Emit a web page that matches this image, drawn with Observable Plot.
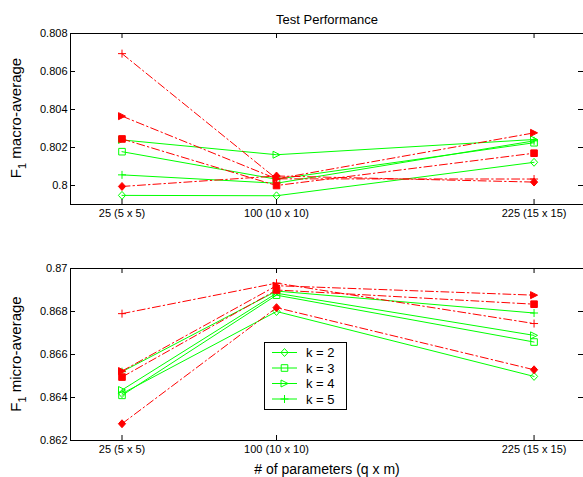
<!DOCTYPE html>
<html><head><meta charset="utf-8">
<script src="https://cdn.jsdelivr.net/npm/d3@7"></script>
<script src="https://cdn.jsdelivr.net/npm/@observablehq/plot@0.6"></script>
<style>
body{margin:0;background:#fff;font-family:"Liberation Sans",Arial,sans-serif;}
#wrap{position:relative;width:583px;height:477px;overflow:hidden;background:#fff;}
#wrap svg{position:absolute;left:0;}
.lbl{position:absolute;white-space:nowrap;color:#000;font-family:"Liberation Sans",Arial,sans-serif;}
.ylab{font-size:15px;transform:translate(-50%,-50%) rotate(-90deg);}
.ylab sub{font-size:11px;vertical-align:-5px;}
</style></head><body>
<div id="wrap"></div>
<script>
// ---- data ----
const params = [25, 100, 225];
const paramLabels = ["25 (5 x 5)", "100 (10 x 10)", "225 (15 x 15)"];
const kLabels = ["k = 2", "k = 3", "k = 4", "k = 5"];

const macroTicks = [0.8, 0.802, 0.804, 0.806, 0.808];
const macroTickLabels = ["0.8", "0.802", "0.804", "0.806", "0.808"];
const microTicks = [0.862, 0.864, 0.866, 0.868, 0.87];
const microTickLabels = ["0.862", "0.864", "0.866", "0.868", "0.87"];

const macroGreenK2 = [0.79948, 0.79946, 0.80122];
const macroGreenK3 = [0.80178, 0.80033, 0.80225];
const macroGreenK4 = [0.80240, 0.80162, 0.80242];
const macroGreenK5 = [0.80056, 0.80012, 0.80235];
const macroRedK2 = [0.79995, 0.80050, 0.80018];
const macroRedK3 = [0.80245, 0.80000, 0.80170];
const macroRedK4 = [0.80365, 0.80035, 0.80277];
const macroRedK5 = [0.80694, 0.80035, 0.80034];

const microGreenK2 = [0.86418, 0.86800, 0.86498];
const microGreenK3 = [0.86410, 0.86876, 0.86658];
const microGreenK4 = [0.86435, 0.86885, 0.86689];
const microGreenK5 = [0.86520, 0.86895, 0.86793];
const microRedK2 = [0.86278, 0.86818, 0.86529];
const microRedK3 = [0.86495, 0.86900, 0.86834];
const microRedK4 = [0.86523, 0.86920, 0.86876];
const microRedK5 = [0.86790, 0.86932, 0.86744];

// ---- symbols (MATLAB-like) ----
const hOf = s => Math.sqrt(s / Math.PI);
const symDiamond = {draw(c, s){const h = hOf(s); c.moveTo(0, -h*1.1); c.lineTo(h, 0); c.lineTo(0, h*1.1); c.lineTo(-h, 0); c.closePath();}};
const symSquare = {draw(c, s){const h = hOf(s); c.moveTo(-h, -h); c.lineTo(h, -h); c.lineTo(h, h); c.lineTo(-h, h); c.closePath();}};
const symTriRight = {draw(c, s){const h = hOf(s); c.moveTo(h, 0); c.lineTo(-h, -h); c.lineTo(-h, h); c.closePath();}};
const symPlus = {draw(c, s){const h = hOf(s); c.moveTo(-h, 0); c.lineTo(h, 0); c.moveTo(0, -h); c.lineTo(0, h);}};
const symbols = [symDiamond, symSquare, symTriRight, symPlus];
const symR = [3.6, 3.3, 3.5, 4];

const GREEN = "#00ff00", RED = "#ff0000", DASH = "8,3,1.5,3";

function rows(vals){ return vals.map((v, i) => ({x: params[i], y: v})); }

function seriesMarks(greens, reds){
  const m = [];
  greens.forEach((vals, k) => {
    m.push(Plot.line(rows(vals), {x: "x", y: "y", stroke: GREEN, strokeWidth: 1}));
    m.push(Plot.dot(rows(vals), {x: "x", y: "y", symbol: symbols[k], r: symR[k], stroke: GREEN, fill: "none", strokeWidth: 1}));
  });
  reds.forEach((vals, k) => {
    m.push(Plot.line(rows(vals), {x: "x", y: "y", stroke: RED, strokeWidth: 1, strokeDasharray: DASH}));
    m.push(Plot.dot(rows(vals), {x: "x", y: "y", symbol: symbols[k], r: symR[k], stroke: RED, fill: RED, strokeWidth: 1}));
  });
  return m;
}

function panel({greens, reds, yDomain, yTicks, yTickLabels, height, mt, mb}){
  const W = 583, ML = 70, MR = 0;
  const pw = W - ML - MR, ph = height - mt - mb, T = 5;
  return Plot.plot({
    width: W, height, marginLeft: ML, marginRight: MR, marginTop: mt, marginBottom: mb,
    style: {fontFamily: "Liberation Sans, Arial, sans-serif", fontSize: "11px", color: "#000", background: "white", overflow: "visible"},
    x: {domain: [0, 249]},
    y: {domain: yDomain},
    marks: [
      Plot.axisX(params, {anchor: "bottom", tickSize: 0, tickPadding: 5, tickFormat: d => paramLabels[params.indexOf(d)], label: null, fontSize: 11}),
      Plot.axisY(yTicks, {anchor: "left", tickSize: 0, tickPadding: 3, tickFormat: d => yTickLabels[yTicks.indexOf(d)], label: null, fontSize: 11}),
      ...seriesMarks(greens, reds),
      Plot.ruleX(params, {insetBottom: ph - T, stroke: "#000"}),
      Plot.ruleX(params, {insetTop: ph - T, stroke: "#000"}),
      Plot.ruleY(yTicks, {insetRight: pw - T, stroke: "#000"}),
      Plot.ruleY(yTicks, {insetLeft: pw - T, stroke: "#000"}),
      Plot.ruleY([yDomain[0], yDomain[1]], {stroke: "#000"}),
      Plot.ruleX([0], {stroke: "#000"})
    ]
  });
}

const wrap = document.getElementById("wrap");

const topPanel = panel({
  greens: [macroGreenK2, macroGreenK3, macroGreenK4, macroGreenK5],
  reds: [macroRedK2, macroRedK3, macroRedK4, macroRedK5],
  yDomain: [0.799, 0.808], yTicks: macroTicks, yTickLabels: macroTickLabels,
  height: 230, mt: 33, mb: 26
});
topPanel.style.top = "0px";
wrap.appendChild(topPanel);

const botPanel = panel({
  greens: [microGreenK2, microGreenK3, microGreenK4, microGreenK5],
  reds: [microRedK2, microRedK3, microRedK4, microRedK5],
  yDomain: [0.862, 0.87], yTicks: microTicks, yTickLabels: microTickLabels,
  height: 247, mt: 38, mb: 37
});
botPanel.style.top = "230px";
wrap.appendChild(botPanel);

// legend
const lg = d3.create("svg").attr("width", 83).attr("height", 68)
  .style("position", "absolute").style("left", "264px").style("top", "342px");
lg.append("rect").attr("x", 0.5).attr("y", 0.5).attr("width", 82).attr("height", 67)
  .attr("fill", "white").attr("stroke", "#000").attr("stroke-width", 1);
const ly = [10.5, 26, 41.5, 57];
kLabels.forEach((t, i) => {
  lg.append("line").attr("x1", 8).attr("x2", 33).attr("y1", ly[i]).attr("y2", ly[i])
    .attr("stroke", GREEN).attr("stroke-width", 1);
  lg.append("path").attr("transform", `translate(20.5,${ly[i]})`)
    .attr("d", d3.symbol(symbols[i], Math.PI * symR[i] * symR[i])())
    .attr("fill", "none").attr("stroke", GREEN).attr("stroke-width", 1);
  lg.append("text").attr("x", 42).attr("y", ly[i]).attr("dy", "0.35em")
    .attr("font-family", "Liberation Sans, Arial, sans-serif").attr("font-size", 13).text(t);
});
wrap.appendChild(lg.node());

// text labels
function addLabel(html, cls, style){
  const d = document.createElement("div");
  d.className = "lbl " + cls;
  d.innerHTML = html;
  Object.assign(d.style, style);
  wrap.appendChild(d);
  return d;
}
addLabel("Test Performance", "", {left: "327px", top: "19px", fontSize: "13px", transform: "translate(-50%,-50%)"});
addLabel("# of parameters (q x m)", "", {left: "327px", top: "469px", fontSize: "14px", transform: "translate(-50%,-50%)"});
addLabel("F<sub>1</sub> macro-average", "ylab", {left: "17px", top: "118px"});
addLabel("F<sub>1</sub> micro-average", "ylab", {left: "17px", top: "354px"});
</script>
</body></html>
